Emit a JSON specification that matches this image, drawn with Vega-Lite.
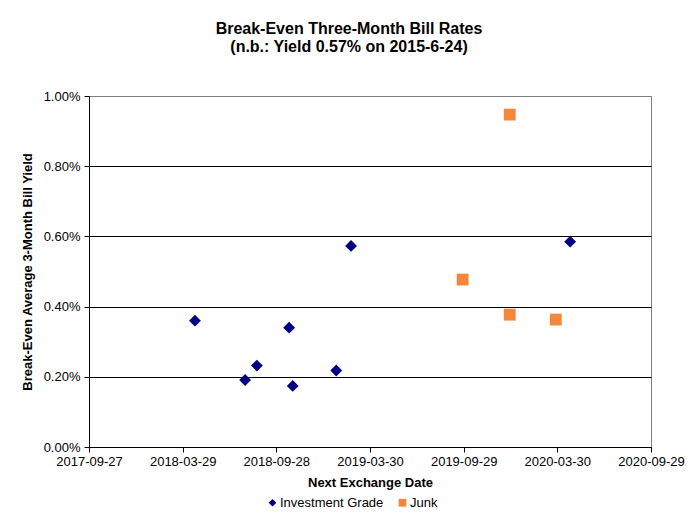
{
  "$schema": "https://vega.github.io/schema/vega-lite/v6.json",
  "width": 562,
  "height": 351,
  "autosize": {"type": "none"},
  "padding": {"left": 89, "top": 96, "right": 47, "bottom": 70},
  "background": "white",
  "title": {
    "text": ["Break-Even Three-Month Bill Rates", "(n.b.: Yield  0.57% on 2015-6-24)"],
    "font": "Liberation Sans",
    "fontSize": 16,
    "fontWeight": "bold",
    "color": "black",
    "anchor": "middle",
    "dx": -21,
    "offset": 35,
    "lineHeight": 18
  },
  "config": {
    "view": {"stroke": "#808080", "strokeWidth": 1},
    "font": "Liberation Sans"
  },
  "data": {
    "values": [
      {"date": "2018-04-22", "yield": 0.0036, "series": "Investment Grade"},
      {"date": "2018-07-29", "yield": 0.00191, "series": "Investment Grade"},
      {"date": "2018-08-21", "yield": 0.00232, "series": "Investment Grade"},
      {"date": "2018-10-23", "yield": 0.0034, "series": "Investment Grade"},
      {"date": "2018-10-30", "yield": 0.00174, "series": "Investment Grade"},
      {"date": "2019-01-23", "yield": 0.00218, "series": "Investment Grade"},
      {"date": "2019-02-21", "yield": 0.00573, "series": "Investment Grade"},
      {"date": "2020-04-24", "yield": 0.00585, "series": "Investment Grade"},
      {"date": "2019-09-27", "yield": 0.00477, "series": "Junk"},
      {"date": "2019-12-28", "yield": 0.00947, "series": "Junk"},
      {"date": "2019-12-28", "yield": 0.00377, "series": "Junk"},
      {"date": "2020-03-27", "yield": 0.00363, "series": "Junk"}
    ]
  },
  "mark": {"type": "point", "filled": true, "opacity": 1, "size": 140},
  "encoding": {
    "x": {
      "field": "date",
      "type": "temporal",
      "scale": {
        "type": "utc",
        "domain": [
          {"year": 2017, "month": 9, "date": 27, "utc": true},
          {"year": 2020, "month": 9, "date": 29, "utc": true}
        ],
        "nice": false
      },
      "axis": {
        "title": "Next Exchange Date",
        "titleFont": "Liberation Sans",
        "titleFontSize": 13,
        "titleFontWeight": "bold",
        "titleColor": "black",
        "titlePadding": 8,
        "values": [
          {"year": 2017, "month": 9, "date": 27, "utc": true},
          {"year": 2018, "month": 3, "date": 29, "utc": true},
          {"year": 2018, "month": 9, "date": 28, "utc": true},
          {"year": 2019, "month": 3, "date": 30, "utc": true},
          {"year": 2019, "month": 9, "date": 29, "utc": true},
          {"year": 2020, "month": 3, "date": 30, "utc": true},
          {"year": 2020, "month": 9, "date": 29, "utc": true}
        ],
        "labelExpr": "utcFormat(datum.value, '%Y-%m-%d')",
        "labelFont": "Liberation Sans",
        "labelFontSize": 13,
        "labelColor": "black",
        "labelPadding": 3,
        "labelOverlap": false,
        "labelFlush": false,
        "grid": false,
        "domainColor": "black",
        "tickColor": "black",
        "tickSize": 5
      }
    },
    "y": {
      "field": "yield",
      "type": "quantitative",
      "scale": {"domain": [0, 0.01], "nice": false},
      "axis": {
        "title": "Break-Even Average  3-Month  Bill  Yield",
        "titleFont": "Liberation Sans",
        "titleFontSize": 13,
        "titleFontWeight": "bold",
        "titleColor": "black",
        "titlePadding": 9,
        "values": [0, 0.002, 0.004, 0.006, 0.008, 0.01],
        "format": ".2%",
        "labelFont": "Liberation Sans",
        "labelFontSize": 13,
        "labelColor": "black",
        "labelPadding": 4,
        "grid": true,
        "gridColor": {"condition": {"test": "datum.value >= 0.0099", "value": "#808080"}, "value": "black"},
        "gridOpacity": 1,
        "domainColor": "black",
        "tickColor": "black",
        "tickSize": 5
      }
    },
    "shape": {
      "field": "series",
      "type": "nominal",
      "scale": {"domain": ["Investment Grade", "Junk"], "range": ["diamond", "square"]},
      "legend": null
    },
    "color": {
      "field": "series",
      "type": "nominal",
      "scale": {"domain": ["Investment Grade", "Junk"], "range": ["#000080", "#F5873B"]},
      "legend": {
        "title": null,
        "orient": "none",
        "direction": "horizontal",
        "legendX": 177,
        "legendY": 400,
        "symbolType": "diamond",
        "labelFont": "Liberation Sans",
        "labelFontSize": 13,
        "labelColor": "black",
        "symbolSize": 60,
        "symbolOffset": 0,
        "labelOffset": 1,
        "columnPadding": 12
      }
    }
  }
}
